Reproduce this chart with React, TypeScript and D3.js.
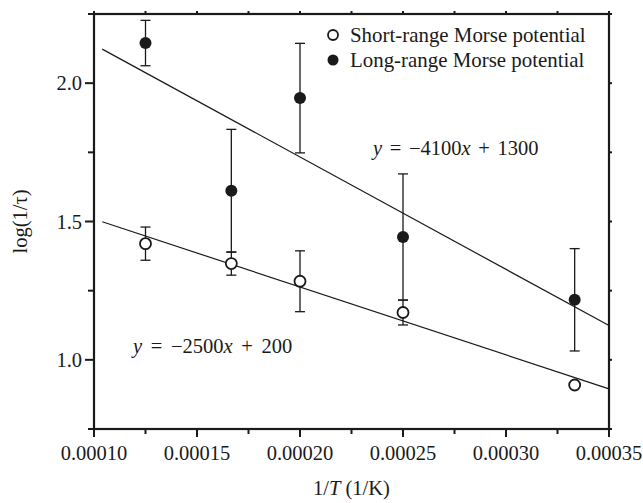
import React from "react";
import * as d3 from "d3";

// ---- data ----
const invT = [1 / 8000, 1 / 6000, 1 / 5000, 1 / 4000, 1 / 3000];
const shortRange = [1.42, 1.348, 1.284, 1.171, 0.909];
const shortErr = [0.06, 0.042, 0.11, 0.045, 0];
const longRange = [2.145, 1.611, 1.946, 1.444, 1.217];
const longErr = [0.082, 0.222, 0.198, 0.228, 0.185];

// fitted lines: [slope, intercept] in plot units, drawn over fitRange
const shortFit = [-2455, 1.7543];
const longFit = [-4061, 2.5453];
const fitRange = [0.000104, 0.00035];

const xTickLabels = [0.0001, 0.00015, 0.0002, 0.00025, 0.0003, 0.00035];
const xMinorTicks = [0.000125, 0.000175, 0.000225, 0.000275, 0.000325];
const yTickLabels = [1.0, 1.5, 2.0];
const yMinorTicks = [0.75, 1.25, 1.75, 2.25];

const legendLabels = ["Short-range Morse potential", "Long-range Morse potential"];

const W = 643;
const H = 503;
const FONT = "'Liberation Serif', 'Times New Roman', serif";
const FS = 20.5;
const INK = "#1a1a1a";

export default function App() {
  const x = d3.scaleLinear().domain([0.0001, 0.00035]).range([94, 609]);
  const y = d3.scaleLinear().domain([0.75, 2.25]).range([429, 14]);
  const [x0, x1] = x.range();
  const [yb, yt] = y.range();

  const fitPath = (fit: number[]) =>
    d3
      .line<number>()
      .x((v) => x(v))
      .y((v) => y(fit[0] * v + fit[1]))(fitRange);

  const allTop = [...xTickLabels, ...xMinorTicks];
  const allRight = [...yTickLabels, ...yMinorTicks];
  const cap = 5;

  const errorBars = (vals: number[], errs: number[], key: string) =>
    vals.map((v, i) =>
      errs[i] > 0 ? (
        <g key={key + i} stroke={INK} strokeWidth={1.3}>
          <line x1={x(invT[i])} x2={x(invT[i])} y1={y(v - errs[i])} y2={y(v + errs[i])} />
          <line x1={x(invT[i]) - cap} x2={x(invT[i]) + cap} y1={y(v + errs[i])} y2={y(v + errs[i])} />
          <line x1={x(invT[i]) - cap} x2={x(invT[i]) + cap} y1={y(v - errs[i])} y2={y(v - errs[i])} />
        </g>
      ) : null
    );

  return (
    <svg
      width={W}
      height={H}
      style={{ position: "absolute", left: 0, top: 0, background: "#fff" }}
      fontFamily={FONT}
      fontSize={FS}
    >
      <rect x={0} y={0} width={W} height={H} fill="#fff" />

      {/* fit lines */}
      <path d={fitPath(longFit) || ""} fill="none" stroke={INK} strokeWidth={1.2} />
      <path d={fitPath(shortFit) || ""} fill="none" stroke={INK} strokeWidth={1.2} />

      {/* error bars */}
      {errorBars(longRange, longErr, "le")}
      {errorBars(shortRange, shortErr, "se")}

      {/* markers */}
      {longRange.map((v, i) => (
        <circle key={"l" + i} cx={x(invT[i])} cy={y(v)} r={6} fill={INK} />
      ))}
      {shortRange.map((v, i) => (
        <circle key={"s" + i} cx={x(invT[i])} cy={y(v)} r={5.5} fill="#fff" stroke={INK} strokeWidth={1.8} />
      ))}

      {/* frame */}
      <rect x={x0} y={yt} width={x1 - x0} height={yb - yt} fill="none" stroke={INK} strokeWidth={2.2} />

      {/* bottom ticks */}
      {xTickLabels.map((t) => (
        <g key={"xt" + t}>
          <line x1={x(t)} x2={x(t)} y1={yb} y2={yb + 8} stroke={INK} strokeWidth={2} />
          <text x={x(t)} y={yb + 31} textAnchor="middle" fill={INK}>
            {d3.format(".5f")(t)}
          </text>
        </g>
      ))}
      {xMinorTicks.map((t) => (
        <line key={"xm" + t} x1={x(t)} x2={x(t)} y1={yb} y2={yb + 5} stroke={INK} strokeWidth={2} />
      ))}
      {/* top ticks */}
      {allTop.map((t) => (
        <line key={"tt" + t} x1={x(t)} x2={x(t)} y1={yt} y2={yt - 3} stroke={INK} strokeWidth={2} />
      ))}

      {/* left ticks */}
      {yTickLabels.map((t) => (
        <g key={"yt" + t}>
          <line x1={x0} x2={x0 - 9} y1={y(t)} y2={y(t)} stroke={INK} strokeWidth={2} />
          <text x={x0 - 12} y={y(t) + 7} textAnchor="end" fill={INK}>
            {d3.format(".1f")(t)}
          </text>
        </g>
      ))}
      {yMinorTicks.map((t) => (
        <line key={"ym" + t} x1={x0} x2={x0 - 6} y1={y(t)} y2={y(t)} stroke={INK} strokeWidth={2} />
      ))}
      {/* right ticks */}
      {allRight.map((t) => (
        <line key={"rt" + t} x1={x1} x2={x1 + 3} y1={y(t)} y2={y(t)} stroke={INK} strokeWidth={2} />
      ))}

      {/* axis titles */}
      <text x={(x0 + x1) / 2} y={495} textAnchor="middle" fill={INK}>
        1/<tspan fontStyle="italic">T</tspan> (1/K)
      </text>
      <text transform={`translate(27,${(yt + yb) / 2}) rotate(-90)`} textAnchor="middle" fill={INK}>
        log(1/τ)
      </text>

      {/* equations */}
      <text x={373} y={155} fill={INK} wordSpacing={2.5}>
        <tspan fontStyle="italic">y</tspan> = −4100<tspan fontStyle="italic">x</tspan> + 1300
      </text>
      <text x={133} y={353} fill={INK} wordSpacing={3.5}>
        <tspan fontStyle="italic">y</tspan> = −2500<tspan fontStyle="italic">x</tspan> + 200
      </text>

      {/* legend */}
      <g fontSize={20.9}>
        <circle cx={333} cy={35} r={5} fill="#fff" stroke={INK} strokeWidth={1.8} />
        <text x={350} y={42} fill={INK}>{legendLabels[0]}</text>
        <circle cx={333} cy={60} r={5.5} fill={INK} />
        <text x={350} y={67} fill={INK}>{legendLabels[1]}</text>
      </g>
    </svg>
  );
}
